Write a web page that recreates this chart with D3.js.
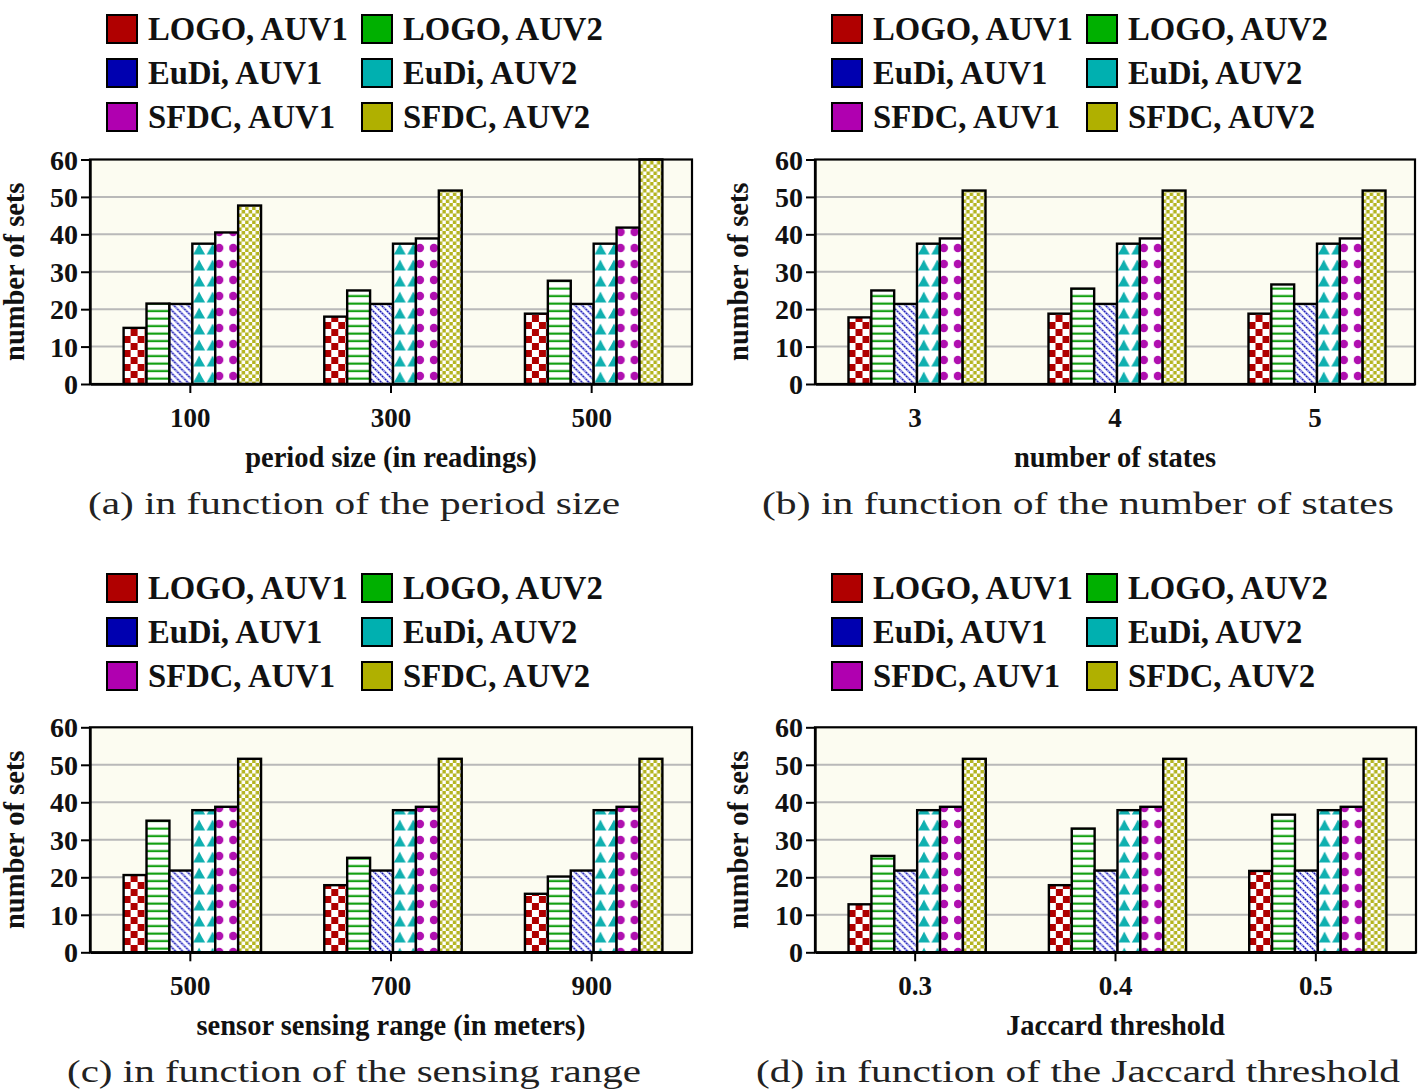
<!DOCTYPE html>
<html><head><meta charset="utf-8">
<script src="https://cdn.jsdelivr.net/npm/d3@7"></script>
<style>body{margin:0;background:#fff}</style>
</head><body>
<svg id="chart" width="1424" height="1092"></svg>
<script>
// ---------------- DATA ----------------
const seriesNames = ["LOGO, AUV1","LOGO, AUV2","EuDi, AUV1","EuDi, AUV2","SFDC, AUV1","SFDC, AUV2"];
const legendOrder = [0,1,2,3,4,5];
const yTicks = [0,10,20,30,40,50,60];

const catsPeriod = ["100","300","500"];
const valsPeriod = [
  [15, 18, 18.8],
  [21.5, 25, 27.6],
  [21.4, 21.4, 21.4],
  [37.5, 37.5, 37.5],
  [40.5, 38.9, 41.8],
  [47.7, 51.7, 60]
];
const catsStates = ["3","4","5"];
const valsStates = [
  [17.8, 18.8, 18.8],
  [25, 25.5, 26.6],
  [21.4, 21.4, 21.4],
  [37.5, 37.5, 37.5],
  [38.9, 38.9, 38.9],
  [51.7, 51.7, 51.7]
];
const catsRange = ["500","700","900"];
const valsRange = [
  [20.6, 17.9, 15.6],
  [35.1, 25.2, 20.2],
  [21.8, 21.8, 21.8],
  [37.9, 37.9, 37.9],
  [38.8, 38.8, 38.8],
  [51.6, 51.6, 51.6]
];
const catsJaccard = ["0.3","0.4","0.5"];
const valsJaccard = [
  [12.8, 17.9, 21.7],
  [25.7, 33, 36.7],
  [21.8, 21.8, 21.8],
  [37.9, 37.9, 37.9],
  [38.8, 38.8, 38.8],
  [51.6, 51.6, 51.6]
];
const xTitles = ["period size (in readings)","number of states","sensor sensing range (in meters)","Jaccard threshold"];
const captions = ["(a) in function of the period size","(b) in function of the number of states","(c) in function of the sensing range","(d) in function of the Jaccard threshold"];

// ---------------- STYLE ----------------
const swatchColors = ["#b00000","#00b000","#0000b0","#00b0b0","#b000b0","#b0b000"];
const boldFont = "'Liberation Serif','Times New Roman',serif";
const captionWidths = [532, 632, 574, 644];

const svg = d3.select("#chart");
const defs = svg.append("defs");

function pat(id, w, h) {
  const p = defs.append("pattern").attr("id", id).attr("patternUnits","userSpaceOnUse")
    .attr("width", w).attr("height", h);
  p.append("rect").attr("width", w).attr("height", h).attr("fill", "#fff");
  return p;
}
let p = pat("p0", 14, 14);
p.append("rect").attr("x",0).attr("y",0).attr("width",7).attr("height",7).attr("fill","#b00000");
p.append("rect").attr("x",7).attr("y",7).attr("width",7).attr("height",7).attr("fill","#b00000");

p = pat("p1", 8, 7.5);
p.append("rect").attr("x",0).attr("y",2.5).attr("width",8).attr("height",2.2).attr("fill","#13a013");

p = pat("p2", 7, 7);
p.append("path").attr("d","M-1,-1L8,8M-1,6L1,8M6,-1L8,1").attr("stroke","#a8a8f0").attr("stroke-width",2.2);
p.append("path").attr("d","M-1,-1L8,8M-1,6L1,8M6,-1L8,1").attr("stroke","#1010a8").attr("stroke-width",1.3).attr("stroke-dasharray","1.6,1.2");

p = pat("p3", 13.5, 16);
p.append("path").attr("d","M0.8,14.5L4,9L6.8,3.5L9.6,9L12.8,14.5Z").attr("fill","#10b0b0");

p = pat("p4", 14, 16);
p.append("circle").attr("cx",4).attr("cy",8).attr("r",4.2).attr("fill","#b010b0");

p = pat("p5", 7, 7);
p.append("rect").attr("width",7).attr("height",7).attr("fill","#b4b420");
p.append("rect").attr("x",0).attr("y",0).attr("width",3.5).attr("height",3.5).attr("fill","#fff");
p.append("rect").attr("x",3.5).attr("y",3.5).attr("width",3.5).attr("height",3.5).attr("fill","#fff");

// ---------------- PANELS ----------------
const panels = [
  {cats: catsPeriod, vals: valsPeriod, x0: 90, x1: 692, y0: 384, y1: 159.5, legY: 29, titleX: 24, capX: 354},
  {cats: catsStates, vals: valsStates, x0: 815, x1: 1415, y0: 384, y1: 159.5, legY: 29, titleX: 748, capX: 1078},
  {cats: catsRange, vals: valsRange, x0: 90, x1: 692, y0: 952.3, y1: 727.3, legY: 588, titleX: 24, capX: 354},
  {cats: catsJaccard, vals: valsJaccard, x0: 815, x1: 1416, y0: 952.3, y1: 727.3, legY: 588, titleX: 748, capX: 1078}
];

panels.forEach((P, pi) => {
  const g = svg.append("g");
  const x = d3.scaleBand().domain(P.cats).range([P.x0, P.x1]).padding(0);
  const y = d3.scaleLinear().domain([0, 60]).range([P.y0, P.y1]);
  const gw = x.bandwidth() * 0.685;
  const xi = d3.scaleBand().domain(d3.range(seriesNames.length)).range([-gw/2 + 2, gw/2 + 2]).padding(0);

  g.append("rect").attr("x", P.x0).attr("y", P.y1).attr("width", P.x1 - P.x0).attr("height", P.y0 - P.y1)
    .attr("fill", "#fcfcf1");
  g.selectAll(".grid").data(yTicks.filter(t => t > 0 && t < 60)).enter().append("line")
    .attr("x1", P.x0).attr("x2", P.x1).attr("y1", d => y(d)).attr("y2", d => y(d))
    .attr("stroke", "#b9b9b9").attr("stroke-width", 2);

  const data = [];
  P.cats.forEach((c, ci) => P.vals.forEach((row, si) => data.push({c, si, v: row[ci]})));
  const bg = g.selectAll(".bar").data(data).enter().append("g")
    .attr("transform", d => `translate(${x(d.c) + x.bandwidth()/2 + xi(d.si)},0)`);
  bg.append("rect")
    .attr("x", 0)
    .attr("width", xi.bandwidth())
    .attr("y", d => y(Math.min(d.v, 60)))
    .attr("height", d => y(0) - y(Math.min(d.v, 60)))
    .attr("fill", d => `url(#p${d.si})`)
    .attr("stroke", "#000").attr("stroke-width", 2.4);

  g.append("rect").attr("x", P.x0).attr("y", P.y1).attr("width", P.x1 - P.x0).attr("height", P.y0 - P.y1)
    .attr("fill", "none").attr("stroke", "#000").attr("stroke-width", 2.2);

  const ya = g.append("g").attr("transform", `translate(${P.x0},0)`)
    .call(d3.axisLeft(y).tickValues(yTicks).tickSize(9).tickSizeOuter(0).tickPadding(3));
  ya.select(".domain").attr("stroke", "#000").attr("stroke-width", 2.4);
  ya.selectAll(".tick line").attr("stroke", "#000").attr("stroke-width", 2);
  ya.selectAll(".tick text").attr("font-family", boldFont).attr("font-weight", "bold")
    .attr("font-size", 28).attr("fill", "#111").attr("dy", "0.34em");

  const xa = g.append("g").attr("transform", `translate(0,${P.y0})`)
    .call(d3.axisBottom(x).tickSize(9).tickSizeOuter(0));
  xa.select(".domain").attr("stroke", "#000").attr("stroke-width", 2.4);
  xa.selectAll(".tick line").attr("stroke", "#000").attr("stroke-width", 2);
  xa.selectAll(".tick text").attr("font-family", boldFont).attr("font-weight", "bold")
    .attr("font-size", 27).attr("fill", "#111").attr("y", 43).attr("dy", 0);

  g.append("text").attr("transform", `translate(${P.titleX},${(P.y0 + P.y1)/2}) rotate(-90)`)
    .attr("text-anchor", "middle").attr("font-family", boldFont).attr("font-weight", "bold")
    .attr("font-size", 28.5).attr("fill", "#111").text("number of sets");

  g.append("text").attr("x", (P.x0 + P.x1)/2).attr("y", P.y0 + 83)
    .attr("text-anchor", "middle").attr("font-family", boldFont).attr("font-weight", "bold")
    .attr("font-size", 28.5).attr("fill", "#111").text(xTitles[pi]);

  g.append("text").attr("x", P.capX).attr("y", P.y0 + 130)
    .attr("text-anchor", "middle").attr("font-family", "'Liberation Serif','DejaVu Serif',serif")
    .attr("font-size", 32).attr("fill", "#222")
    .attr("textLength", captionWidths[pi]).attr("lengthAdjust", "spacingAndGlyphs")
    .text(captions[pi]);

  const leg = g.append("g");
  legendOrder.forEach((si, k) => {
    const col = k % 2, row = Math.floor(k / 2);
    const lx = P.x0 + (col === 0 ? 17 : 272);
    const ly = P.legY + row * 44;
    leg.append("rect").attr("x", lx).attr("y", ly - 14).attr("width", 30).attr("height", 28)
      .attr("fill", swatchColors[si]).attr("stroke", "#000").attr("stroke-width", 2);
    leg.append("text").attr("x", lx + 41).attr("y", ly + 11)
      .attr("font-family", boldFont).attr("font-weight", "bold").attr("font-size", 32.7)
      .attr("fill", "#111").text(seriesNames[si]);
  });
});
</script>
</body></html>
